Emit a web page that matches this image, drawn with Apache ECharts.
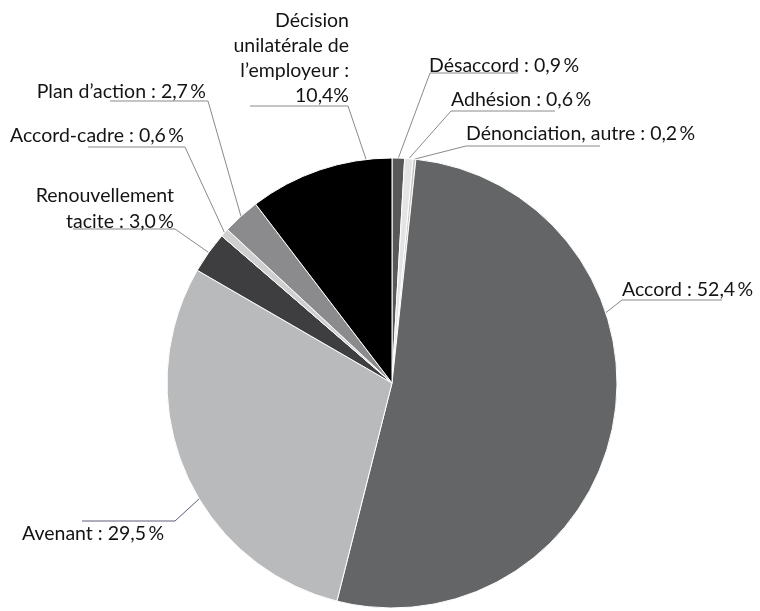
<!DOCTYPE html>
<html>
<head>
<meta charset="utf-8">
<script src="https://cdn.jsdelivr.net/npm/echarts@6/dist/echarts.min.js"></script>
<style>
html,body{margin:0;padding:0;background:#fff;}
#chart{width:760px;height:611px;}
</style>
</head>
<body>
<div id="chart"></div>
<script>
// ---- Data ----
var categories = ["Désaccord", "Adhésion", "Dénonciation, autre", "Accord", "Avenant",
  "Renouvellement\ntacite", "Accord-cadre", "Plan d\u2019action", "Décision\nunilatérale de\nl\u2019employeur"];
var values = [0.9, 0.6, 0.2, 52.4, 29.5, 3.0, 0.6, 2.7, 10.4];
var colors = ["#58585a", "#e4e4e4", "#c4c4c4", "#646567", "#b9babb", "#3e3e40", "#cfcfcf", "#8b8b8d", "#000000"];

// ---- Label placement (styling only) ----
var CX = 392, CY = 383, R = 225;
var labelPlace = [
  {x: 429, y: 79, align: 'left', sep: ' : ', line: [[430, 73], [518, 73]]},
  {x: 451, y: 112.5, align: 'left', sep: ' : ', line: [[451, 111], [555, 111]]},
  {x: 466, y: 146.5, align: 'left', sep: ' : ', line: [[466, 146], [600, 146]]},
  {x: 622, y: 303, align: 'left', sep: ' : ', line: [[622, 300], [722, 300]], touch: 71.8},
  {x: 22, y: 521, align: 'left', sep: ' : ', va: 'top', line: [[175, 521], [82, 521]], touch: 239},
  {x: 174, y: 235, align: 'right', sep: ' : ', line: [[175, 229], [73, 229]]},
  {x: 184, y: 149, align: 'right', sep: ' : ', line: [[185, 147], [88, 147]]},
  {x: 206, y: 105, align: 'right', sep: ' : ', line: [[208, 101], [110, 101]]},
  {x: 349, y: 108, align: 'right', sep: ' :\n', lh: 25, line: [[348, 106], [250, 106]], touch: 353.4}
];

function fmt(v) {
  return v.toFixed(1).replace('.', ',');
}

var total = values.reduce(function (a, b) { return a + b; }, 0);
var midAngles = [];
(function () {
  var acc = 0;
  for (var i = 0; i < values.length; i++) {
    var a0 = acc / total * 360;
    acc += values[i];
    var a1 = acc / total * 360;
    midAngles.push((a0 + a1) / 2);
  }
})();

function edgePoint(angleDeg) {
  var t = angleDeg * Math.PI / 180;
  return [CX + R * Math.sin(t), CY - R * Math.cos(t)];
}

var data = categories.map(function (c, i) {
  var item = {
    name: c,
    value: values[i],
    itemStyle: {color: colors[i]},
    labelLine: {lineStyle: {color: i === 4 ? '#5c5c78' : '#8a8a8a', width: 1}}
  };
  if (labelPlace[i].lh) item.label = {lineHeight: labelPlace[i].lh};
  return item;
});

var chart = echarts.init(document.getElementById('chart'), null, {renderer: 'canvas'});
chart.setOption({
  animation: false,
  backgroundColor: '#ffffff',
  series: [{
    type: 'pie',
    center: [CX, CY],
    radius: [0, R],
    startAngle: 90,
    clockwise: true,
    avoidLabelOverlap: false,
    itemStyle: {borderColor: '#ffffff', borderWidth: 1},
    label: {
      show: true,
      position: 'outside',
      fontFamily: 'Lato',
      fontSize: 19.5,
      lineHeight: 26,
      color: '#141414',
      formatter: function (p) {
        var i = p.dataIndex;
        var sp = (i === 8) ? '' : '\u2009';
        return p.name + labelPlace[i].sep + fmt(values[i]) + sp + '%';
      }
    },
    labelLine: {show: true, length: 10, length2: 10},
    labelLayout: function (params) {
      var i = params.dataIndex;
      var lp = labelPlace[i];
      var edge = edgePoint(lp.touch != null ? lp.touch : midAngles[i]);
      return {
        x: lp.x,
        y: lp.y,
        align: lp.align,
        verticalAlign: lp.va || 'bottom',
        labelLinePoints: [edge, lp.line[0], lp.line[1]]
      };
    },
    data: data
  }]
});
</script>
</body>
</html>
